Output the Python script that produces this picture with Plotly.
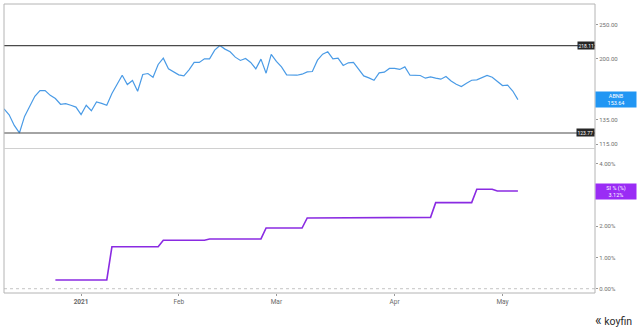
import math
import pandas as pd
import plotly.graph_objects as go

# NYSE market holidays inside the charted window
HOLIDAYS = ["2020-12-25", "2021-01-01", "2021-01-18", "2021-02-15", "2021-04-02", "2021-05-31"]

# Trading days from the ABNB listing to the latest close
dates = [d.strftime("%Y-%m-%d") for d in
         pd.bdate_range("2020-12-10", "2021-05-06", freq="C", holidays=HOLIDAYS)]
AXIS_END = "2021-05-27"

# ABNB daily close (USD)
abnb_close = [
    144.71, 139.25, 130.00, 123.77, 137.8, 147.1, 157.0, 162.9, 162.9, 158.0,
    154.7, 149.1, 149.7, 148.1, 146.4, 139.4, 148.1, 143.0, 151.3, 150.0,
    148.1, 159.8, 169.8, 180.0, 169.4, 173.9, 162.2, 180.9, 182.0, 177.7,
    193.0, 201.1, 187.6, 183.6, 180.4, 179.2, 186.4, 195.6, 195.6, 200.2,
    200.2, 211.8, 218.11, 213.2, 209.5, 202.4, 198.1, 200.7, 195.6, 187.6,
    199.8, 182.4, 206.0, 196.8, 190.0, 180.4, 180.0, 180.0, 181.2, 183.9,
    184.4, 198.5, 206.4, 209.5, 200.2, 201.1, 191.8, 195.1, 195.6, 187.2,
    179.2, 176.9, 174.2, 182.7, 183.6, 188.1, 188.1, 186.9, 190.0, 180.0,
    180.0, 179.7, 176.6, 178.1, 176.6, 175.4, 178.5, 173.4, 169.8, 167.2,
    170.9, 174.2, 174.6, 177.4, 179.7, 177.7, 173.1, 168.3, 168.7, 162.5,
    153.64,
]

# Short interest as % of float
si_pct = [
    None, None, None, None, None, None, None, None, None, None,
    0.28, 0.28, 0.28, 0.28, 0.28, 0.28, 0.28, 0.28, 0.28, 0.28,
    0.28, 1.34, 1.34, 1.34, 1.34, 1.34, 1.34, 1.34, 1.34, 1.34,
    1.34, 1.55, 1.55, 1.55, 1.55, 1.55, 1.55, 1.55, 1.55, 1.55,
    1.59, 1.59, 1.59, 1.59, 1.59, 1.59, 1.59, 1.59, 1.59, 1.59,
    1.59, 1.94, 1.94, 1.94, 1.94, 1.94, 1.94, 1.94, 1.94, 2.26,
    2.26, 2.26, 2.26, 2.26, 2.26, 2.26, 2.26, 2.26, 2.26, 2.26,
    2.28, 2.28, 2.28, 2.28, 2.28, 2.28, 2.28, 2.28, 2.28, 2.28,
    2.28, 2.28, 2.28, 2.28, 2.75, 2.75, 2.75, 2.75, 2.75, 2.75,
    2.75, 2.75, 3.18, 3.18, 3.18, 3.18, 3.12, 3.12, 3.12, 3.12,
    3.12,
]

price_ticks = [115, 135, 200, 250]
si_ticks = [0, 1, 2, 4]
x_tickvals = ["2021-01-04", "2021-02-01", "2021-03-01", "2021-04-01", "2021-05-03"]
x_ticktext = ["<b>2021</b>", "Feb", "Mar", "Apr", "May"]

HIGH = max(abnb_close)
LOW = min(abnb_close)
LAST = abnb_close[-1]
SI_LAST = [v for v in si_pct if v is not None][-1]

BLUE = "#4a9be6"
PURPLE = "#8a2be2"
FONT = "Roboto, Arial, sans-serif"

fig = go.Figure()

# price panel
fig.add_trace(go.Scatter(x=dates, y=abnb_close, mode="lines",
                         line=dict(color=BLUE, width=1.2), xaxis="x", yaxis="y"))
for level in (HIGH, LOW):
    fig.add_trace(go.Scatter(x=[dates[0], AXIS_END], y=[level, level], mode="lines",
                             line=dict(color="#4a4a4a", width=1.1), xaxis="x", yaxis="y"))

# short-interest panel
fig.add_trace(go.Scatter(x=[dates[0], AXIS_END], y=[0, 0], mode="lines",
                         line=dict(color="#c4c4c4", width=1, dash="dot"),
                         xaxis="x", yaxis="y2"))
fig.add_trace(go.Scatter(x=dates, y=si_pct, mode="lines",
                         line=dict(color=PURPLE, width=1.6), xaxis="x", yaxis="y2"))

tick_font = dict(family=FONT, size=6, color="#707070")

fig.update_layout(
    width=640, height=331,
    margin=dict(l=4, r=45, t=4, b=38),
    paper_bgcolor="white", plot_bgcolor="white",
    showlegend=False,
    font=dict(family=FONT),
    xaxis=dict(
        domain=[0, 1], anchor="y2", type="date",
        range=[dates[0], AXIS_END],
        rangebreaks=[dict(bounds=["sat", "mon"]), dict(values=HOLIDAYS)],
        tickvals=x_tickvals, ticktext=x_ticktext,
        ticks="outside", ticklen=2, tickcolor="#999",
        tickfont=dict(family=FONT, size=6.5, color="#6a6a6a"),
        showgrid=False, zeroline=False, showline=False,
    ),
    yaxis=dict(
        domain=[0.5, 1], anchor="x", side="right", type="log",
        range=[math.log10(111.9), math.log10(285.7)],
        tickvals=price_ticks, ticktext=[f"{v:.2f}" for v in price_ticks],
        ticks="outside", ticklen=2, tickcolor="#999", tickfont=tick_font,
        showgrid=False, zeroline=False, showline=False,
    ),
    yaxis2=dict(
        domain=[0, 0.5], anchor="x", side="right",
        range=[-0.137, 4.48],
        tickvals=si_ticks, ticktext=[f"{v:.2f}%" for v in si_ticks],
        ticks="outside", ticklen=2, tickcolor="#999", tickfont=tick_font,
        showgrid=False, zeroline=False, showline=False,
    ),
    shapes=[
        dict(type="rect", xref="paper", yref="paper", x0=0, x1=1, y0=0, y1=1,
             line=dict(color="#b4b4b4", width=1)),
        dict(type="line", xref="paper", yref="paper", x0=0, x1=1, y0=0.5, y1=0.5,
             line=dict(color="#d0d0d0", width=1)),
    ],
)

annotations = [
    dict(x=1, xref="paper", y=math.log10(HIGH), yref="y", xanchor="right", yanchor="middle",
         text=f"{HIGH:.2f}", showarrow=False, bgcolor="#262626", borderpad=0.5,
         font=dict(family=FONT, size=5, color="white")),
    dict(x=1, xref="paper", y=math.log10(LOW), yref="y", xanchor="right", yanchor="middle",
         text=f"{LOW:.2f}", showarrow=False, bgcolor="#262626", borderpad=0.5,
         font=dict(family=FONT, size=5, color="white")),
    dict(x=1, xref="paper", y=math.log10(LAST), yref="y", xanchor="left", yanchor="middle",
         text=f"ABNB<br>{LAST:.2f}", showarrow=False, bgcolor="#2196f3",
         width=38, height=13, borderpad=1, align="center",
         font=dict(family=FONT, size=5.5, color="white")),
    dict(x=1, xref="paper", y=SI_LAST, yref="y2", xanchor="left", yanchor="middle",
         text=f"SI % (%)<br>{SI_LAST:.2f}%", showarrow=False, bgcolor="#9a2cf5",
         width=38, height=13, borderpad=1, align="center",
         font=dict(family=FONT, size=5.5, color="white")),
    dict(x=1, xref="paper", xanchor="right", xshift=39, y=0, yref="paper", yshift=-27,
         yanchor="middle",
         text="<span style='font-size:14px'>\u00ab</span> koyfin", showarrow=False,
         font=dict(family=FONT, size=10.5, color="#2b2b2b")),
]
fig.update_layout(annotations=annotations)

fig.write_html("out.html", config={"displayModeBar": False})
